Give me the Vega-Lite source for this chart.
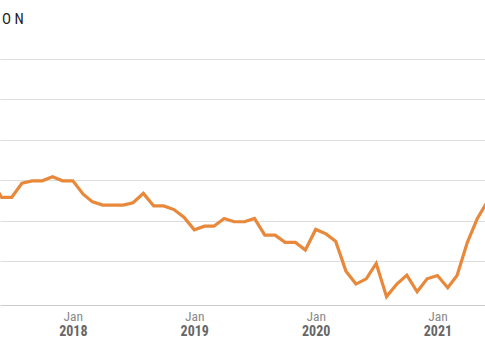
{
  "$schema": "https://vega.github.io/schema/vega-lite/v6.json",
  "width": 485,
  "height": 246,
  "autosize": {"type": "none"},
  "padding": {"top": 59, "left": 0, "right": 0, "bottom": 55},
  "background": "white",
  "title": {
    "text": "O N",
    "anchor": "start",
    "frame": "group",
    "orient": "top",
    "offset": 32,
    "dx": 2,
    "fontSize": 15,
    "fontWeight": "normal",
    "font": "Liberation Sans Narrow, Roboto Condensed, Liberation Sans",
    "color": "#222222"
  },
  "config": {
    "view": {"stroke": null},
    "axis": {"labelFont": "Liberation Sans Narrow, Roboto Condensed, Liberation Sans"}
  },
  "data": {
    "values": [
      {"date": "2017-05-01", "value": 30.1},
      {"date": "2017-06-01", "value": 25.8},
      {"date": "2017-07-01", "value": 25.8},
      {"date": "2017-08-01", "value": 29.3},
      {"date": "2017-09-01", "value": 29.9},
      {"date": "2017-10-01", "value": 29.9},
      {"date": "2017-11-01", "value": 30.9},
      {"date": "2017-12-01", "value": 29.9},
      {"date": "2018-01-01", "value": 29.9},
      {"date": "2018-02-01", "value": 26.6},
      {"date": "2018-03-01", "value": 24.7},
      {"date": "2018-04-01", "value": 23.9},
      {"date": "2018-05-01", "value": 23.9},
      {"date": "2018-06-01", "value": 23.9},
      {"date": "2018-07-01", "value": 24.5},
      {"date": "2018-08-01", "value": 26.8},
      {"date": "2018-09-01", "value": 23.7},
      {"date": "2018-10-01", "value": 23.7},
      {"date": "2018-11-01", "value": 22.8},
      {"date": "2018-12-01", "value": 20.9},
      {"date": "2019-01-01", "value": 17.8},
      {"date": "2019-02-01", "value": 18.7},
      {"date": "2019-03-01", "value": 18.7},
      {"date": "2019-04-01", "value": 20.6},
      {"date": "2019-05-01", "value": 19.8},
      {"date": "2019-06-01", "value": 19.8},
      {"date": "2019-07-01", "value": 20.6},
      {"date": "2019-08-01", "value": 16.5},
      {"date": "2019-09-01", "value": 16.5},
      {"date": "2019-10-01", "value": 14.7},
      {"date": "2019-11-01", "value": 14.7},
      {"date": "2019-12-01", "value": 12.8},
      {"date": "2020-01-01", "value": 17.9},
      {"date": "2020-02-01", "value": 16.8},
      {"date": "2020-03-01", "value": 15.0},
      {"date": "2020-04-01", "value": 7.6},
      {"date": "2020-05-01", "value": 4.4},
      {"date": "2020-06-01", "value": 5.7},
      {"date": "2020-07-01", "value": 9.5},
      {"date": "2020-08-01", "value": 1.3},
      {"date": "2020-09-01", "value": 4.4},
      {"date": "2020-10-01", "value": 6.6},
      {"date": "2020-11-01", "value": 2.5},
      {"date": "2020-12-01", "value": 5.7},
      {"date": "2021-01-01", "value": 6.5},
      {"date": "2021-02-01", "value": 3.5},
      {"date": "2021-03-01", "value": 6.5},
      {"date": "2021-04-01", "value": 14.7},
      {"date": "2021-05-01", "value": 20.6},
      {"date": "2021-06-01", "value": 24.9}
    ]
  },
  "layer": [
    {
      "mark": {"type": "line", "opacity": 0, "clip": true},
      "encoding": {
        "x": {
          "field": "date",
          "type": "temporal",
          "scale": {"type": "utc", "domain": [{"year": 2017, "month": 5, "date": 27, "utc": true}, {"year": 2021, "month": 5, "date": 24, "utc": true}]},
          "axis": {
            "orient": "bottom",
            "title": null,
            "grid": false,
            "ticks": false,
            "domain": false,
            "values": [{"year": 2018, "month": 1, "date": 1, "utc": true}, {"year": 2019, "month": 1, "date": 1, "utc": true}, {"year": 2020, "month": 1, "date": 1, "utc": true}, {"year": 2021, "month": 1, "date": 1, "utc": true}],
            "format": "%Y",
            "labelFontSize": 14,
            "labelFontWeight": "bold",
            "labelColor": "#666666",
            "labelPadding": 19,
            "labelFlush": false,
            "labelOverlap": false
          }
        },
        "y": {
          "field": "value",
          "type": "quantitative",
          "scale": {"domain": [-0.77, 60], "nice": false, "zero": false},
          "axis": {
            "orient": "left",
            "title": null,
            "labels": false,
            "ticks": false,
            "domain": false,
            "grid": true,
            "gridColor": "#dedede",
            "gridWidth": 1.2,
            "values": [10, 20, 30, 40, 50, 60]
          }
        }
      }
    },
    {
      "mark": {"type": "line", "color": "#E8883A", "strokeWidth": 3.2, "clip": true, "strokeJoin": "miter"},
      "encoding": {
        "x": {
          "field": "date",
          "type": "temporal",
          "axis": {
            "orient": "bottom",
            "title": null,
            "grid": false,
            "ticks": false,
            "domain": true,
            "domainColor": "#cccccc",
            "domainWidth": 1,
            "values": [{"year": 2018, "month": 1, "date": 1, "utc": true}, {"year": 2019, "month": 1, "date": 1, "utc": true}, {"year": 2020, "month": 1, "date": 1, "utc": true}, {"year": 2021, "month": 1, "date": 1, "utc": true}],
            "format": "%b",
            "labelFontSize": 13.5,
            "labelFontWeight": "normal",
            "labelColor": "#8a8a8a",
            "labelPadding": 4,
            "labelFlush": false,
            "labelOverlap": false
          }
        },
        "y": {
          "field": "value",
          "type": "quantitative",
          "axis": {
            "orient": "left",
            "title": null,
            "labels": false,
            "ticks": false,
            "domain": false,
            "grid": true,
            "gridColor": "#dedede",
            "gridWidth": 1.2,
            "values": [10, 20, 30, 40, 50, 60]
          }
        }
      }
    }
  ],
  "resolve": {"axis": {"x": "independent"}}
}
